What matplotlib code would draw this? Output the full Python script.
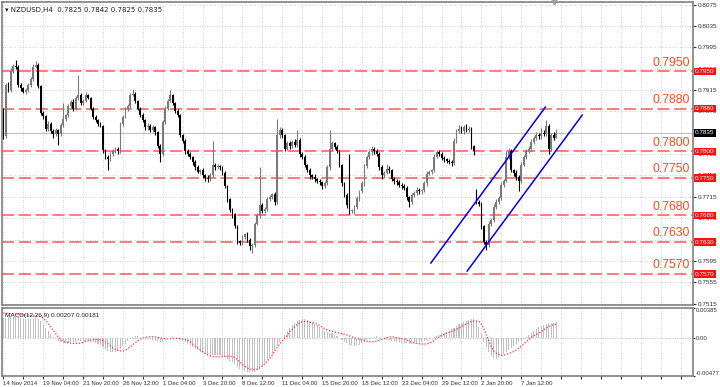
import numpy as np
import matplotlib.pyplot as plt
from matplotlib.transforms import blended_transform_factory

plt.rcParams['font.family'] = ['Liberation Sans', 'DejaVu Sans']

# NZDUSD H4 closes, in pips (0.7828 -> 7828)
close = [
    7828, 7925, 7915, 7950, 7960, 7958, 7925, 7918, 7912, 7915,
    7925, 7935, 7958, 7962, 7922, 7872, 7866, 7842, 7852, 7838,
    7833, 7840, 7832, 7850, 7860, 7868, 7885, 7893, 7880, 7900,
    7905, 7890, 7895, 7905, 7900, 7880, 7865, 7858, 7852, 7848,
    7802, 7790, 7785, 7795, 7800, 7805, 7800, 7852, 7865, 7880,
    7885, 7905, 7908, 7895, 7880, 7868, 7858, 7845, 7848, 7840,
    7845, 7836, 7810, 7795, 7855, 7880, 7895, 7905, 7890, 7875,
    7868, 7830, 7820, 7800, 7795, 7790, 7780, 7770, 7762, 7765,
    7755, 7750, 7748, 7755, 7775, 7770, 7772, 7770, 7760, 7735,
    7710, 7690, 7682, 7660, 7632, 7628, 7640, 7645, 7635, 7622,
    7625, 7665, 7680, 7700, 7688, 7692, 7710, 7715, 7720, 7705,
    7830, 7840, 7830, 7805, 7815, 7810, 7818, 7812, 7822, 7795,
    7790, 7775, 7765, 7755, 7752, 7748, 7745, 7742, 7735, 7740,
    7770, 7805, 7815, 7808, 7800, 7775, 7740, 7718, 7700, 7688,
    7690, 7695, 7712, 7725, 7740, 7772, 7790, 7798, 7805, 7800,
    7795, 7770, 7755, 7760, 7768, 7765, 7748, 7745, 7742, 7738,
    7735, 7732, 7715, 7705, 7718, 7722, 7728, 7725, 7727, 7740,
    7758, 7762, 7765, 7790, 7798, 7795, 7788, 7785, 7782, 7780,
    7778, 7820, 7838, 7842, 7838, 7845, 7840, 7842, 7810, 7800,
    7705, 7702, 7660, 7630, 7625, 7665, 7672, 7695, 7705, 7712,
    7738, 7745, 7790, 7800, 7765, 7760, 7752, 7745, 7775, 7790,
    7800, 7805, 7818, 7825, 7830, 7828, 7835, 7832, 7848, 7805,
    7830, 7825, 7835]
first_open = 7880
gap_open = {190: 7725}

up_wick = [
    2, 4, 5, 6, 4, 12, 3, 4, 3, 4,
    3, 4, 5, 8, 3, 2, 4, 3, 5, 3,
    4, 3, 2, 3, 30, 3, 4, 3, 5, 4,
    38, 4, 3, 6, 3, 2, 3, 4, 3, 4,
    2, 3, 4, 3, 5, 3, 4, 3, 4, 3,
    4, 5, 8, 3, 2, 3, 4, 3, 5, 3,
    4, 3, 2, 3, 4, 5, 4, 10, 3, 2,
    4, 3, 2, 3, 4, 3, 2, 3, 4, 3,
    4, 3, 5, 4, 45, 3, 4, 3, 2, 3,
    2, 3, 4, 3, 2, 3, 4, 3, 5, 3,
    4, 3, 5, 70, 4, 3, 5, 4, 3, 4,
    30, 6, 4, 3, 5, 4, 3, 5, 18, 3,
    4, 3, 2, 4, 3, 5, 3, 4, 3, 4,
    5, 35, 4, 3, 4, 3, 2, 3, 4, 96,
    3, 4, 5, 3, 4, 5, 4, 6, 5, 3,
    4, 3, 5, 4, 8, 4, 3, 4, 3, 4,
    3, 4, 3, 2, 4, 3, 5, 4, 3, 4,
    5, 4, 3, 6, 5, 4, 3, 4, 3, 4,
    3, 6, 4, 8, 5, 4, 6, 5, 3, 2,
    5, 4, 3, 2, 4, 5, 4, 6, 5, 4,
    5, 4, 10, 6, 4, 3, 5, 4, 5, 4,
    4, 6, 5, 4, 6, 5, 8, 6, 10, 4,
    5, 6, 7]
dn_wick = [
    5, 3, 4, 3, 4, 3, 5, 4, 3, 4,
    3, 4, 3, 2, 4, 3, 5, 4, 3, 4,
    8, 4, 20, 3, 4, 3, 4, 3, 5, 3,
    4, 3, 4, 3, 2, 3, 4, 3, 4, 3,
    5, 4, 20, 3, 4, 3, 5, 3, 4, 3,
    4, 3, 2, 4, 3, 4, 3, 5, 4, 3,
    4, 5, 4, 15, 3, 4, 3, 2, 4, 3,
    4, 3, 5, 4, 3, 4, 5, 4, 3, 5,
    4, 5, 6, 4, 3, 4, 3, 4, 5, 4,
    5, 4, 6, 4, 5, 4, 3, 4, 5, 6,
    12, 4, 3, 5, 4, 3, 4, 3, 4, 5,
    3, 4, 5, 4, 3, 5, 4, 3, 4, 5,
    4, 5, 4, 6, 4, 5, 4, 5, 6, 4,
    3, 4, 5, 4, 3, 4, 5, 4, 6, 5,
    4, 8, 3, 4, 3, 4, 3, 4, 5, 4,
    4, 5, 6, 4, 3, 5, 4, 6, 5, 4,
    5, 4, 6, 10, 4, 3, 4, 5, 4, 3,
    4, 3, 5, 4, 3, 4, 5, 4, 3, 4,
    5, 3, 4, 3, 4, 5, 4, 3, 5, 6,
    4, 5, 6, 4, 10, 4, 5, 4, 3, 4,
    3, 4, 3, 5, 4, 6, 5, 20, 4, 3,
    4, 3, 5, 4, 3, 5, 4, 3, 4, 10,
    4, 4, 0]

# MACD(12,26,9), in units of 1e-5
macd_main = [
    255, 262, 265, 268, 272, 275, 270, 262, 255, 250,
    248, 248, 252, 256, 245, 215, 175, 130, 95, 55,
    20, -10, -35, -50, -55, -58, -55, -50, -48, -40,
    -35, -35, -32, -28, -30, -40, -52, -62, -72, -82,
    -110, -135, -158, -170, -172, -168, -160, -130, -100, -65,
    -35, -5, 18, 28, 25, 18, 10, 2, -5, -12,
    -15, -20, -35, -50, -40, -22, -5, 8, 12, 8,
    2, -15, -30, -50, -70, -90, -110, -130, -150, -168,
    -185, -200, -212, -218, -215, -212, -210, -210, -218, -235,
    -260, -285, -305, -330, -360, -385, -400, -410, -420, -428,
    -430, -420, -400, -375, -345, -310, -275, -235, -195, -160,
    -100, -50, 0, 45, 90, 130, 165, 195, 220, 235,
    242, 240, 232, 220, 205, 185, 165, 140, 115, 95,
    80, 72, 62, 45, 25, 5, -18, -40, -60, -78,
    -88, -92, -88, -78, -62, -42, -22, -5, 10, 22,
    28, 22, 10, -5, -15, -22, -32, -40, -48, -52,
    -55, -58, -62, -66, -65, -62, -58, -52, -45, -35,
    -22, -10, 5, 20, 35, 48, 58, 68, 80, 95,
    115, 135, 160, 180, 195, 210, 225, 235, 240, 240,
    215, 150, 60, -40, -110, -170, -220, -255, -258, -245,
    -225, -200, -175, -150, -120, -95, -70, -50, -30, -10,
    15, 40, 65, 90, 115, 140, 160, 172, 185, 190,
    195, 200, 207]
macd_signal = [
    322, 320, 317, 314, 311, 308, 305, 302, 299, 296,
    293, 290, 287, 284, 281, 275, 255, 225, 190, 150,
    105, 60, 20, -15, -35, -48, -56, -60, -63, -64,
    -64, -58, -50, -40, -30, -22, -16, -12, -12, -18,
    -30, -48, -70, -95, -120, -140, -152, -158, -159, -150,
    -130, -105, -80, -55, -32, -12, 2, 12, 18, 21,
    21, 18, 12, 5, 0, -4, -6, -5, -2, 0,
    0, -2, -6, -12, -25, -45, -70, -95, -120, -145,
    -168, -190, -208, -222, -232, -236, -236, -234, -230, -228,
    -227, -227, -230, -245, -270, -300, -330, -355, -375, -388,
    -394, -395, -390, -375, -350, -322, -290, -255, -210, -160,
    -115, -70, -30, 0, 40, 80, 118, 150, 178, 198,
    210, 215, 213, 205, 198, 193, 180, 165, 145, 125,
    107, 98, 90, 82, 73, 66, 58, 50, 43, 32,
    20, 8, -2, -12, -21, -28, -35, -40, -43, -40,
    -32, -22, -12, -2, 8, 16, 21, 16, 8, 2,
    0, -8, -20, -35, -50, -60, -64, -68, -72, -73,
    -70, -62, -48, -28, 0, 20, 38, 52, 65, 76,
    86, 100, 116, 133, 150, 168, 185, 200, 215, 220,
    220, 215, 180, 120, 43, -30, -107, -160, -190, -205,
    -215, -212, -203, -193, -180, -165, -148, -129, -100, -72,
    -43, -15, 10, 32, 50, 64, 85, 108, 130, 150,
    162, 172, 181]

levels = [0.7950, 0.7880, 0.7800, 0.7750, 0.7680, 0.7630, 0.7570]
price_ticks = [0.8075, 0.8035, 0.7995, 0.7955, 0.7915, 0.7875, 0.7795,
               0.7755, 0.7715, 0.7675, 0.7635, 0.7595, 0.7555, 0.7515]
last_price = 0.7835
time_labels = ['14 Nov 2014', '19 Nov 04:00', '21 Nov 20:00', '26 Nov 12:00',
               '1 Dec 04:00', '3 Dec 20:00', '8 Dec 12:00', '11 Dec 04:00',
               '15 Dec 20:00', '18 Dec 12:00', '23 Dec 04:00', '29 Dec 12:00',
               '2 Jan 20:00', '7 Jan 12:00']
# channel anchors: (bar, price)
channel_upper = [(171.7, 0.7591), (217.7, 0.7883)]
channel_lower = [(186.3, 0.7576), (232.5, 0.7868)]

c = np.array(close) / 10000
o = np.empty_like(c)
o[0] = first_open / 10000
o[1:] = c[:-1]
for k, v in gap_open.items():
    o[k] = v / 10000
hi = np.maximum(o, c) + np.array(up_wick) / 10000
lo = np.minimum(o, c) - np.array(dn_wick) / 10000
x = np.arange(len(c))

fig = plt.figure(figsize=(7.2, 3.87), dpi=100)
ax = fig.add_axes([0.003, 0.2119, 0.9595, 0.7829])
ax2 = fig.add_axes([0.003, 0.0284, 0.9595, 0.1757])
xmax = 277

for a in (ax, ax2):
    a.set_xlim(-0.5, xmax)
    for s in a.spines.values():
        s.set_color('#808080')
        s.set_linewidth(1.2)
    a.set_xticks(np.arange(0, xmax, 8))
    a.grid(True, ls=(0, (1, 2)), color='#c4c4c4', lw=0.6)
    a.set_axisbelow(True)

# price panel
ax.set_ylim(0.75124, 0.80798)
ax.axhline(last_price, color='#c0c0c0', lw=0.8, zorder=1)
up = c >= o
col = np.where(up, '#7a7a7a', '#000000')
ax.vlines(x, lo, hi, colors=col, lw=0.8, zorder=3)
body = np.where(np.abs(c - o) < 0.00005, 0.00005, c - o)
ax.bar(x, body, bottom=o, width=0.7, color=col, lw=0, zorder=4)

trans = blended_transform_factory(ax.transAxes, ax.transData)
for lv in levels:
    ax.axhline(lv, color='#ff5858', lw=1.1, ls=(0, (8, 3)), zorder=2)
    ax.annotate('%.4f' % lv, (0.996, lv), xycoords=trans, xytext=(0, 2),
                textcoords='offset points', ha='right', va='bottom',
                color='#ff4a1c', fontsize=8.8)
    ax.text(1.003, lv, '%.4f' % lv, transform=trans, ha='left', va='center',
            color='white', fontsize=4.6, zorder=10, clip_on=False,
            bbox=dict(boxstyle='square,pad=0.2', fc='#ff1010', ec='none'))
ax.text(1.003, last_price, '%.4f' % last_price, transform=trans, ha='left',
        va='center', color='white', fontsize=4.6, zorder=10, clip_on=False,
        bbox=dict(boxstyle='square,pad=0.2', fc='#000000', ec='none'))

for (x0, y0), (x1, y1) in [(channel_upper[0], channel_upper[1]),
                           (channel_lower[0], channel_lower[1])]:
    ax.plot([x0, x1], [y0, y1], color='#0000ee', lw=1.1, zorder=5)

# chart shift marker at the top edge
ax.plot([221], [0.80798], marker='v', ms=3.5, color='#a0a0a0', clip_on=False,
        zorder=6)

ax.yaxis.tick_right()
ax.set_yticks(price_ticks)
ax.set_yticklabels(['%.4f' % t for t in price_ticks])
ax.tick_params(axis='y', labelsize=4.6, length=2, pad=1.5, colors='#303030')
ax.tick_params(axis='x', length=0, labelbottom=False)
ax.text(0.004, 0.985, '\u25be NZDUSD,H4  0.7825 0.7842 0.7825 0.7835',
        transform=ax.transAxes, ha='left', va='top', fontsize=5,
        color='#202020', family=['DejaVu Sans'])

# MACD panel
ax2.set_ylim(-0.00477, 0.00385)
ax2.bar(x, np.array(macd_main) * 1e-5, width=0.42, color='#c0c0c0', lw=0)
ax2.plot(x, np.array(macd_signal) * 1e-5, color='#ff3030', lw=0.9,
         ls=(0, (1, 1.4)))
ax2.axhline(0, color='#c4c4c4', ls=(0, (1, 2)), lw=0.6)
ax2.yaxis.tick_right()
ax2.set_yticks([0.00385, 0.0, -0.00477])
ax2.set_yticklabels(['0.00385', '0.00', '-0.00477'])
ax2.tick_params(axis='y', labelsize=4.3, length=1.5, pad=0.5, colors='#303030')
yl = ax2.get_yticklabels()
yl[0].set_va('top')
yl[2].set_va('bottom')
xt = np.arange(0, xmax, 8)
ax2.set_xticks(xt)
lab = []
for i, t in enumerate(xt):
    lab.append(time_labels[i // 2] if i % 2 == 0 and i // 2 < len(time_labels) else '')
ax2.set_xticklabels(lab)
ax2.tick_params(axis='x', labelsize=4.3, length=2, pad=1.5, colors='#303030')
for t in ax2.get_xticklabels():
    t.set_ha('left')
ax2.text(0.004, 0.93, 'MACD(12,26,9) 0.00207 0.00181', transform=ax2.transAxes,
         ha='left', va='top', fontsize=4.6, color='#202020')

fig.savefig('out.png', dpi=100)
